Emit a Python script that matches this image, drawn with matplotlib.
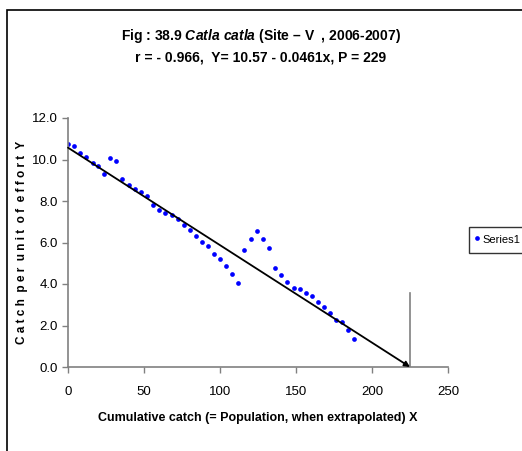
import numpy as np
import matplotlib
matplotlib.use('Agg')
import matplotlib.pyplot as plt
from matplotlib.patches import Rectangle

plt.rcParams['font.family'] = ['Liberation Sans', 'DejaVu Sans']
plt.rcParams['mathtext.fontset'] = 'custom'
plt.rcParams['mathtext.it'] = 'Liberation Sans:italic:bold'
plt.rcParams['mathtext.rm'] = 'Liberation Sans:bold'

# cumulative catch (x) and catch per unit effort (y)
cum_catch = [0, 3.7, 7.7, 11.6, 16.2, 19.9, 23.9, 27.9, 31.8, 35.8,
             40.1, 44.1, 48.0, 51.9, 55.9, 59.9, 63.8, 68.2, 72.2, 76.1,
             80.1, 84.0, 88.0, 91.9, 96.3, 100.2, 104.1, 108.1, 112.0, 116.0,
             120.4, 124.3, 128.3, 132.2, 136.2, 140.1, 144.1, 148.5, 152.4, 156.4,
             160.3, 164.3, 168.2, 172.6, 176.5, 180.5, 184.4, 188.4]
cpue = [10.77, 10.65, 10.32, 10.13, 9.81, 9.68, 9.29, 10.07, 9.94, 9.05,
        8.79, 8.58, 8.41, 8.23, 7.81, 7.57, 7.43, 7.31, 7.12, 6.86,
        6.62, 6.30, 6.02, 5.85, 5.46, 5.20, 4.88, 4.49, 4.04, 5.65,
        6.17, 6.56, 6.17, 5.72, 4.75, 4.45, 4.11, 3.80, 3.74, 3.56,
        3.42, 3.11, 2.90, 2.58, 2.27, 2.16, 1.76, 1.37]

intercept = 10.57
x_end = 225        # where the fitted line meets the x axis (arrow tip)
marker_top = 3.55  # height of the vertical marker line

fig = plt.figure(figsize=(5.22, 4.51), dpi=100)
ax = fig.add_axes([68/522, 84/451, 380/522, 249/451])

ax.plot(cum_catch, cpue, 'o', color='#0000FF', ms=3.4, mew=0, label='Series1')
ax.annotate('', xy=(x_end, 0), xytext=(0, intercept),
            arrowprops=dict(arrowstyle='-|>', color='black', lw=1.3,
                            mutation_scale=8, shrinkA=0, shrinkB=0))
ax.plot([x_end, x_end], [0, marker_top], color='#808080', lw=1.2)

ax.set_xlim(0, 250)
ax.set_ylim(0, 12)
ax.set_xticks(np.arange(0, 251, 50))
ax.set_yticks(np.arange(0, 12.1, 2))
ax.set_yticklabels([f'{v:.1f}' for v in np.arange(0, 12.1, 2)])
for s in ['top', 'right']:
    ax.spines[s].set_visible(False)
for s in ['left', 'bottom']:
    ax.spines[s].set_color('#808080')
    ax.spines[s].set_linewidth(1.2)
ax.tick_params(colors='#808080', labelcolor='black', labelsize=9.5, length=4, width=1)
ax.tick_params(axis='x', pad=10)

ax.set_xlabel('Cumulative catch (= Population, when extrapolated) X',
              fontsize=9, fontweight='bold', labelpad=10)
ax.set_ylabel('C a t c h  p e r  u n i t  o f  e f f o r t  Y',
              fontsize=8.5, fontweight='bold', labelpad=3)

fig.text(0.5, 1 - 36/451, 'Fig : 38.9 $\\it{Catla\\ catla}$ (Site – V  , 2006-2007)',
         ha='center', va='center', fontsize=10, fontweight='bold')
fig.text(0.5, 1 - 57/451, 'r = - 0.966,  Y= 10.57 - 0.0461x, P = 229',
         ha='center', va='center', fontsize=10, fontweight='bold')

leg = fig.legend(loc='upper left', bbox_to_anchor=(469/522, 1 - 227/451),
                 fontsize=8, frameon=True, fancybox=False, handlelength=0.5,
                 handleheight=1.8, handletextpad=0.3, borderpad=0.45,
                 borderaxespad=0)
leg.get_frame().set_edgecolor('black')
leg.get_frame().set_linewidth(1.0)

fig.patches.append(Rectangle((7/522, -0.1), 1.2, 1 - 10/451 + 0.1,
                             transform=fig.transFigure, fill=False,
                             edgecolor='black', lw=1.2))

fig.savefig('out.png', dpi=100)
